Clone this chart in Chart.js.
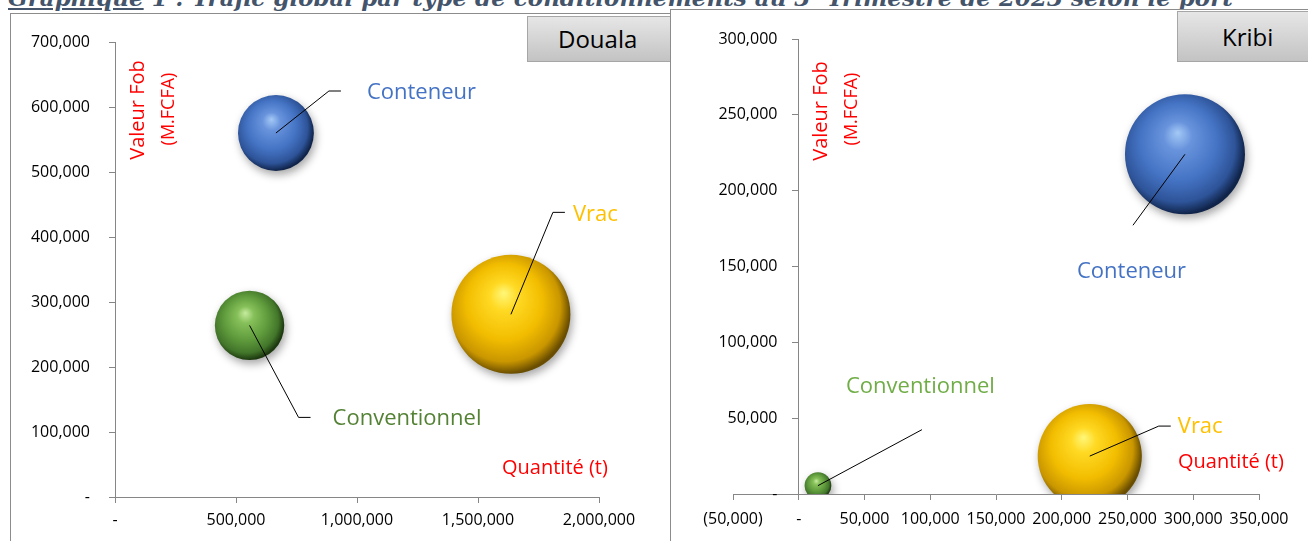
<!DOCTYPE html>
<html>
<head>
<meta charset="utf-8">
<script src="https://cdn.jsdelivr.net/npm/chart.js@4.4.0/dist/chart.umd.min.js"></script>
<style>
  body { margin:0; width:1308px; height:541px; overflow:hidden; background:#fff; position:relative; font-family:'Open Sans', sans-serif; }
  #titre { position:absolute; left:8px; top:-19px; font-family:'DejaVu Serif', serif; font-weight:bold; font-style:italic;
           font-size:23px; line-height:23px; color:#44546A; white-space:nowrap; }
  #titre sup { font-size:13px; }
  .cadre { position:absolute; background:#fff; border:1px solid #8c8c8c; }
  #cadreDouala { left:10px; top:13px; width:700px; height:560px; }
  #cadreKribi { left:670px; top:9px; width:700px; height:560px; }
  .port { position:absolute; height:46px; border:1px solid #a6a6a6; background:linear-gradient(#e6e6e6, #c3c3c3);
          font-size:24px; line-height:44px; color:#000; box-sizing:border-box; }
  #portDouala { left:527px; top:16px; width:200px; padding-left:30px; }
  #portKribi { left:1177px; top:11px; width:160px; height:51px; line-height:50px; padding-left:44px; }
  canvas { position:absolute; }
  #grDouala { left:10px; top:13px; }
  #grKribi { left:670px; top:9px; }
</style>
</head>
<body>
<div id="titre"><u>Graphique</u> 1 : Trafic global par type de conditionnements au 3<sup>e</sup> Trimestre de 2023 selon le port</div>
<div class="cadre" id="cadreDouala"></div>
<div class="port" id="portDouala">Douala</div>
<canvas id="grDouala" width="660" height="528"></canvas>
<div class="cadre" id="cadreKribi"></div>
<canvas id="grKribi" width="638" height="532"></canvas>
<div class="port" id="portKribi">Kribi</div>
<script>
// données (quantité en t, valeur Fob en M.FCFA)
const categories = ['Conteneur', 'Conventionnel', 'Vrac'];
const doualaQuantite = [665000, 556000, 1636000];
const doualaValeur = [560000, 264000, 281000];
const kribiQuantite = [293700, 14600, 221300];
const kribiValeur = [224000, 5500, 25000];

// axes : min, max, pas
const doualaAxeX = [0, 2000000, 500000];
const doualaAxeY = [0, 700000, 100000];
const kribiAxeX = [-50000, 350000, 50000];
const kribiAxeY = [0, 300000, 50000];

const teintes = [
  ['#a4c9f6', '#6893dc', '#4574c5', '#2e5499', '#10244a'],
  ['#c6eb9e', '#86c05a', '#5f9b3c', '#42752a', '#1c380f'],
  ['#fff77a', '#ffd923', '#f2bd00', '#c99600', '#694d00']
];

// étiquettes : trait de rappel puis position du texte, relatifs au centre de la bulle
const doualaEtiquettes = [
  { couleur: '#4472C4', trait: [[53, -42], [65, -42]], pos: [91, -40] },
  { couleur: '#548235', trait: [[49, 92], [61, 92]], pos: [83, 93] },
  { couleur: '#FFC000', trait: [[42, -102], [54, -102]], pos: [62, -100] }
];
const kribiEtiquettes = [
  { couleur: '#4472C4', trait: [[-52, 71]], pos: [-108, 117] },
  { couleur: '#70AD47', trait: [[104, -56]], pos: [28, -99] },
  { couleur: '#FFC000', trait: [[69, -30], [81, -30]], pos: [88, -29] }
];
const doualaTitres = { valeur: [128, 97], mfcfa: [159, 96], quantite: [492, 455] };
const kribiTitres = { valeur: [151, 102], mfcfa: [182, 100], quantite: [508, 453] };

function compta(v) {
  if (v === 0) return '-';
  const s = Math.abs(v).toLocaleString('en-US');
  return v < 0 ? '(' + s + ')' : s;
}

function rayonDe(quantite, rMax) {
  const qMax = Math.max.apply(null, quantite);
  return function (ctx) {
    return ctx.raw ? rMax * Math.sqrt(ctx.raw.x / qMax) : 3;
  };
}

function sphere(rayon) {
  return function (ctx) {
    const t = teintes[ctx.dataIndex] || teintes[0];
    const ch = ctx.chart, sx = ch.scales.x, sy = ch.scales.y;
    if (!ctx.raw || !sx || !sy) return t[2];
    const x = sx.getPixelForValue(ctx.raw.x), y = sy.getPixelForValue(ctx.raw.y);
    const r = rayon(ctx);
    if (!isFinite(x) || !isFinite(y) || !isFinite(r)) return t[2];
    const g = ch.ctx.createRadialGradient(x - r * 0.12, y - r * 0.36, 0, x - r * 0.1, y - r * 0.1, r * 1.1);
    g.addColorStop(0, t[0]);
    g.addColorStop(0.22, t[1]);
    g.addColorStop(0.58, t[2]);
    g.addColorStop(0.85, t[3]);
    g.addColorStop(1, t[4]);
    return g;
  };
}

const ombre = {
  id: 'ombre',
  beforeDatasetsDraw(chart) {
    const c = chart.ctx;
    c.save();
    c.shadowColor = 'rgba(0,0,0,0.35)';
    c.shadowBlur = 8;
    c.shadowOffsetX = 2;
    c.shadowOffsetY = 4;
  },
  afterDatasetsDraw(chart) {
    chart.ctx.restore();
  }
};

function etiquettes(liste, titres) {
  return {
    id: 'etiquettes',
    afterDraw(chart) {
      const c = chart.ctx;
      c.save();
      chart.getDatasetMeta(0).data.forEach(function (pt, i) {
        const e = liste[i];
        c.strokeStyle = '#000';
        c.lineWidth = 1;
        c.beginPath();
        c.moveTo(pt.x, pt.y);
        e.trait.forEach(function (p) { c.lineTo(pt.x + p[0], pt.y + p[1]); });
        c.stroke();
        c.fillStyle = e.couleur;
        c.font = '22px "Open Sans"';
        c.textAlign = 'left';
        c.textBaseline = 'middle';
        c.fillText(categories[i], pt.x + e.pos[0], pt.y + e.pos[1]);
      });
      // titres d'axes
      c.fillStyle = '#FF0000';
      c.textAlign = 'center';
      c.textBaseline = 'middle';
      c.save();
      c.translate(titres.valeur[0], titres.valeur[1]);
      c.rotate(-Math.PI / 2);
      c.font = '20px "Open Sans"';
      c.fillText('Valeur Fob', 0, 0);
      c.restore();
      c.save();
      c.translate(titres.mfcfa[0], titres.mfcfa[1]);
      c.rotate(-Math.PI / 2);
      c.font = '18px "Open Sans"';
      c.fillText('(M.FCFA)', 0, 0);
      c.restore();
      c.textAlign = 'left';
      c.font = '20px "Open Sans"';
      c.fillText('Quantité (t)', titres.quantite[0], titres.quantite[1]);
      c.restore();
    }
  };
}

Chart.defaults.font.family = '"Open Sans", sans-serif';
Chart.defaults.color = '#000';

function graphique(id, quantite, valeur, axeX, axeY, rMax, reglage) {
  const rayon = rayonDe(quantite, rMax);
  const points = quantite.map(function (q, i) { return { x: q, y: valeur[i] }; });
  return new Chart(document.getElementById(id).getContext('2d'), {
    type: 'bubble',
    data: {
      labels: categories,
      datasets: [{
        data: points,
        radius: rayon,
        backgroundColor: sphere(rayon),
        borderWidth: 0,
        clip: reglage.clip
      }]
    },
    options: {
      responsive: false,
      animation: false,
      events: [],
      layout: { padding: reglage.padding, autoPadding: false },
      plugins: { legend: { display: false }, tooltip: { enabled: false } },
      scales: {
        x: {
          type: 'linear', position: 'bottom',
          min: axeX[0], max: axeX[1],
          grid: { drawOnChartArea: false, tickLength: 6, color: '#868686' },
          border: { color: '#868686' },
          ticks: { stepSize: axeX[2], padding: reglage.padX, maxRotation: 0, font: { size: 16 }, callback: compta },
          afterFit: function (s) { s.height = reglage.hauteurX; s.paddingLeft = 0; s.paddingRight = 0; }
        },
        y: {
          type: 'linear', position: reglage.posY,
          min: axeY[0], max: axeY[1],
          grid: { drawOnChartArea: false, tickLength: 6, color: '#868686' },
          border: { color: '#868686' },
          ticks: {
            stepSize: axeY[2], padding: reglage.padY, font: { size: 16 },
            callback: function (v) { return compta(v) + reglage.suffixeY; }
          },
          afterFit: function (s) { if (reglage.largeurY) s.width = reglage.largeurY; s.paddingTop = 0; s.paddingBottom = 0; }
        }
      }
    },
    plugins: [ombre, etiquettes(reglage.etiquettes, reglage.titres)]
  });
}

graphique('grDouala', doualaQuantite, doualaValeur, doualaAxeX, doualaAxeY, 59.5, {
  padding: { left: 0, top: 29, right: 71, bottom: 0 },
  hauteurX: 44, largeurY: 105, posY: 'left', padX: 8, padY: 19, suffixeY: '',
  clip: false, etiquettes: doualaEtiquettes, titres: doualaTitres
});

// axe des valeurs croisé à x = 0 : l'écart des libellés vient de l'espace final
graphique('grKribi', kribiQuantite, kribiValeur, kribiAxeX, kribiAxeY, 60, {
  padding: { left: 63, top: 30, right: 49, bottom: 0 },
  hauteurX: 47, largeurY: 0, posY: { x: 0 }, padX: 10, padY: 16, suffixeY: '\u2003\u2004',
  clip: 0, etiquettes: kribiEtiquettes, titres: kribiTitres
});
</script>
</body>
</html>
